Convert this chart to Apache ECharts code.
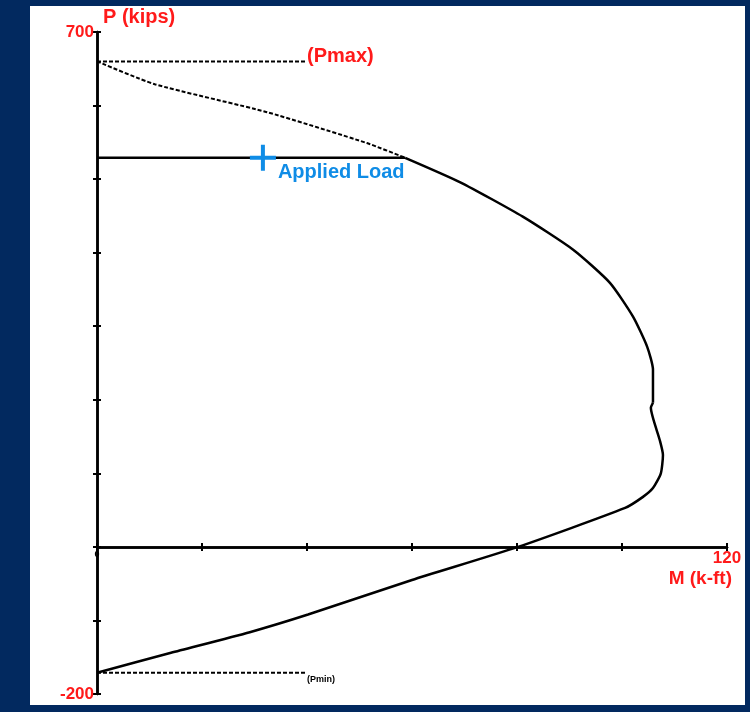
<!DOCTYPE html>
<html>
<head>
<meta charset="utf-8">
<style>
  html, body { margin: 0; padding: 0; background: #02295f; }
  #panel { position: absolute; left: 30px; top: 6px; width: 715px; height: 699px; background: #fff; }
  #chart { position: absolute; left: 0; top: 0; width: 750px; height: 712px; }
</style>
<script src="https://cdn.jsdelivr.net/npm/echarts@6/dist/echarts.min.js"></script>
</head>
<body>
<div id="panel"></div>
<div id="chart"></div>
<script>
// M (k-ft) / P (kips), curve split at the small kink
var upperM = [58.7, 69.1, 81.1, 90.7, 97.7, 102.1, 104.8, 105.9, 105.9];
var upperP = [529, 496, 449, 404, 359, 313, 272, 241, 196];
var lowerM = [105.9, 105.5, 107.2, 107.8, 107.4, 105.9, 104.0, 100.6, 80.2, 60.0, 40.2, 29.1, 14.1, 0];
var lowerP = [196, 189, 145, 125, 100, 80, 68, 53, 0, -45, -92, -116, -144, -171];
var capM = [0, 11.0, 32.4, 51.4, 58.7];
var capP = [660, 629, 591, 549, 529];
var pmaxM = [0, 40];
var pmaxP = [660, 660];
var pminM = [0, 40];
var pminP = [-171, -171];
var loadM = [0, 58.7];
var loadP = [529, 529];
var appliedM = [31.6];
var appliedP = [529];
var yTickLabels = ['700', '-200'];
var xTickLabels = ['0', '120'];

function pairs(xs, ys) {
  return xs.map(function (x, i) { return [x, ys[i]] })
}

var RED = '#ff1a1a'
var BLUE = '#0f8ce6'
var FONT = 'Liberation Sans, Arial, sans-serif'

var chart = echarts.init(document.getElementById('chart'))

var axisLine = { onZero: true, onZeroAxisIndex: 0, lineStyle: { color: '#000', width: 2.5 } }
var tick = { length: 4, lineStyle: { color: '#000', width: 2 } }

chart.setOption({
  animation: false,
  grid: { left: 97, right: 23, top: 32, bottom: 18, containLabel: false, outerBoundsMode: 'none' },
  xAxis: [
    {
      // labels don't follow onZero, so the axis is lifted onto P = 0 with offset
      type: 'value', min: 0, max: 120, interval: 20, position: 'bottom', offset: -147,
      axisLine: { onZero: false, lineStyle: { color: '#000', width: 2.5 } },
      axisTick: tick,
      splitLine: { show: false },
      axisLabel: {
        margin: 3,
        showMinLabel: true, showMaxLabel: true,
        formatter: function (v) {
          if (v === 0) return '{zero|' + xTickLabels[0] + '}'
          if (v === 120) return '{end|' + xTickLabels[1] + '}'
          return ''
        },
        rich: {
          zero: { fontSize: 9, fontWeight: 'bold', color: '#000', fontFamily: FONT },
          end: { fontSize: 17, fontWeight: 'bold', color: RED, fontFamily: FONT }
        }
      },
      name: 'M (k-ft)', nameLocation: 'end', nameGap: 5,
      nameTextStyle: { color: RED, fontSize: 19, fontWeight: 'bold', fontFamily: FONT, align: 'right', verticalAlign: 'top', padding: [22, 0, 0, 0] }
    },
    {
      type: 'value', min: 0, max: 120, interval: 20, position: 'top',
      axisLine: axisLine,
      axisTick: tick,
      splitLine: { show: false },
      axisLabel: { show: false }
    }
  ],
  yAxis: [
    {
      type: 'value', min: -200, max: 700, interval: 100, position: 'left',
      axisLine: axisLine,
      axisTick: tick,
      splitLine: { show: false },
      axisLabel: {
        margin: 3, color: RED, fontSize: 17, fontWeight: 'bold', fontFamily: FONT,
        showMinLabel: true, showMaxLabel: true,
        formatter: function (v) {
          if (v === 700) return yTickLabels[0]
          if (v === -200) return yTickLabels[1]
          return ''
        }
      },
      name: 'P (kips)', nameLocation: 'end', nameGap: 5,
      nameTextStyle: { color: RED, fontSize: 20, fontWeight: 'bold', fontFamily: FONT, align: 'left', padding: [0, 0, 0, 6] }
    },
    {
      type: 'value', min: -200, max: 700, interval: 100, position: 'right',
      axisLine: axisLine,
      axisTick: tick,
      splitLine: { show: false },
      axisLabel: { show: false }
    }
  ],
  series: [
    {
      type: 'line', data: pairs(upperM, upperP), showSymbol: false, smooth: 0.2,
      lineStyle: { color: '#000', width: 2.5 }
    },
    {
      type: 'line', data: pairs(lowerM, lowerP), showSymbol: false, smooth: 0.2,
      lineStyle: { color: '#000', width: 2.5 }
    },
    {
      type: 'line', data: pairs(capM, capP), showSymbol: false, smooth: 0.2,
      lineStyle: { color: '#000', width: 2, type: [4, 2] }
    },
    {
      type: 'line', data: pairs(loadM, loadP), showSymbol: false,
      lineStyle: { color: '#000', width: 2.5 }
    },
    {
      type: 'line', data: pairs(pmaxM, pmaxP), showSymbol: false,
      lineStyle: { color: '#000', width: 2, type: [4, 2] },
      endLabel: {
        show: true, formatter: '(Pmax)', distance: 0, offset: [0, -5],
        color: RED, fontSize: 20, fontWeight: 'bold', fontFamily: FONT
      }
    },
    {
      type: 'line', data: pairs(pminM, pminP), showSymbol: false,
      lineStyle: { color: '#000', width: 2, type: [4, 2] },
      endLabel: {
        show: true, formatter: '(Pmin)', distance: 0, offset: [0, 7],
        color: '#000', fontSize: 9, fontWeight: 'bold', fontFamily: FONT
      }
    },
    {
      type: 'scatter', data: pairs(appliedM, appliedP), z: 5,
      symbol: 'path://M11,0 H15 V11 H26 V15 H15 V26 H11 V15 H0 V11 H11 Z',
      symbolSize: 26,
      itemStyle: { color: BLUE, opacity: 1 },
      label: {
        show: true, formatter: 'Applied Load', position: [28, 18],
        color: BLUE, fontSize: 20, fontWeight: 'bold', fontFamily: FONT
      }
    }
  ]
})
</script>
</body>
</html>
